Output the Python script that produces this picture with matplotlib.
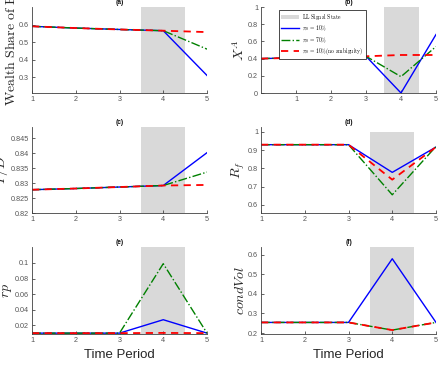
import numpy as np
import matplotlib
matplotlib.use("Agg")
from matplotlib import pyplot as plt
from matplotlib.ticker import FuncFormatter

plt.rcParams['mathtext.fontset'] = 'cm'
plt.rcParams['font.family'] = ['Liberation Sans', 'DejaVu Sans']

# Data
t = [1, 2, 3, 4, 5]
t_b = [0, 1, 2, 3, 4, 5]

wealth_10 = [0.590, 0.580, 0.572, 0.565, 0.310]
wealth_70 = [0.590, 0.580, 0.572, 0.565, 0.460]
wealth_na = [0.590, 0.580, 0.572, 0.565, 0.557]

xa_10 = [0.400, 0.409, 0.418, 0.427, 0.000, 0.680]
xa_70 = [0.400, 0.409, 0.418, 0.427, 0.190, 0.540]
xa_na = [0.400, 0.409, 0.418, 0.427, 0.442, 0.442]

pd_10 = [0.8278, 0.8282, 0.8287, 0.8292, 0.8402]
pd_70 = [0.8278, 0.8282, 0.8287, 0.8292, 0.8337]
pd_na = [0.8278, 0.8282, 0.8287, 0.8292, 0.8294]

rf_10 = [0.930, 0.930, 0.930, 0.778, 0.917]
rf_70 = [0.930, 0.930, 0.930, 0.655, 0.920]
rf_na = [0.930, 0.930, 0.930, 0.738, 0.917]

rp_10 = [0.0101, 0.0101, 0.0101, 0.0273, 0.0101]
rp_70 = [0.0101, 0.0101, 0.0101, 0.0991, 0.0101]
rp_na = [0.0101, 0.0101, 0.0101, 0.0104, 0.0101]

cv_10 = [0.254, 0.254, 0.254, 0.579, 0.254]
cv_70 = [0.254, 0.254, 0.254, 0.215, 0.254]
cv_na = [0.254, 0.254, 0.254, 0.215, 0.254]

labels = [r"$\mathrm{LL\ Signal\ State}$", r"$\pi_0\,=\,10\%$", r"$\pi_0\,=\,70\%$",
          r"$\pi_0\,=\,10\%\mathrm{(no\ ambiguity)}$"]

panels = [
    # title, x, series, ylabel, xlim, ylim, shade top, yticks
    ("(a)", t, (wealth_10, wealth_70, wealth_na), r"$\mathrm{Wealth\ Share\ of\ E}$",
     (1, 5), (0.21, 0.70), 0.70, [0.3, 0.4, 0.5, 0.6]),
    ("(b)", t_b, (xa_10, xa_70, xa_na), r"$X^A$",
     (0, 5), (0, 1), 1.0, [0, 0.2, 0.4, 0.6, 0.8, 1]),
    ("(c)", t, (pd_10, pd_70, pd_na), r"$P/D$",
     (1, 5), (0.82, 0.8488), 0.8488, [0.82, 0.825, 0.83, 0.835, 0.84, 0.845]),
    ("(d)", t, (rf_10, rf_70, rf_na), r"$R_f$",
     (1, 5), (0.555, 1.027), 1.0, [0.6, 0.7, 0.8, 0.9, 1]),
    ("(e)", t, (rp_10, rp_70, rp_na), r"$rp$",
     (1, 5), (0.009, 0.1205), 0.1205, [0.02, 0.04, 0.06, 0.08, 0.1]),
    ("(f)", t, (cv_10, cv_70, cv_na), r"$condVol$",
     (1, 5), (0.195, 0.639), 0.639, [0.2, 0.3, 0.4, 0.5, 0.6]),
]

W, H = 442, 372
fig = plt.figure(figsize=(W / 100, H / 100), dpi=100)
lefts = [32, 261]
tops = [7, 127, 247]
bottoms = [93, 213, 334]
aw = 175

for i, (title, x, series, ylab, xl, yl, shtop, yt) in enumerate(panels):
    r, c = divmod(i, 2)
    ax = fig.add_axes([lefts[c] / W, 1 - bottoms[r] / H, aw / W, (bottoms[r] - tops[r]) / H])
    sh = ax.fill_between([3.5, 4.5], yl[0], shtop, color='#d9d9d9', lw=0)
    l1, = ax.plot(x, series[0], color='#0000ff', lw=1.0, ls='-')
    l2, = ax.plot(x, series[1], color='#008000', lw=1.0, ls='-.')
    l3, = ax.plot(x, series[2], color='#ff0000', lw=1.3, ls='--', dashes=(4, 3))
    ax.set_xlim(*xl)
    ax.set_ylim(*yl)
    ax.set_xticks([1, 2, 3, 4, 5])
    ax.set_yticks(yt)
    ax.yaxis.set_major_formatter(FuncFormatter(lambda v, p: "%g" % v))
    ax.tick_params(direction='in', length=2, width=0.5, labelsize=5.2,
                   colors='#262626', labelcolor='#555555', pad=2)
    for s in ['top', 'right']:
        ax.spines[s].set_visible(False)
    for s in ['left', 'bottom']:
        ax.spines[s].set_color('#404040')
        ax.spines[s].set_linewidth(0.6)
    ax.set_title(title, fontsize=4.8, fontweight='bold', pad=2, color='#111111')
    ax.set_ylabel(ylab, fontsize=10, labelpad=1, color='#262626')
    if r == 2:
        ax.set_xlabel("Time Period", fontsize=9.5, color='#262626', labelpad=4)
    if i == 1:
        leg = ax.legend([sh, l1, l2, l3], labels, loc='upper left',
                        bbox_to_anchor=(0.085, 1.0), fontsize=4, fancybox=False,
                        edgecolor='black', framealpha=1, handlelength=3.2,
                        borderpad=0.4, labelspacing=0.25, handletextpad=0.6)
        leg.get_frame().set_linewidth(0.5)

fig.savefig("out.png", dpi=100)
